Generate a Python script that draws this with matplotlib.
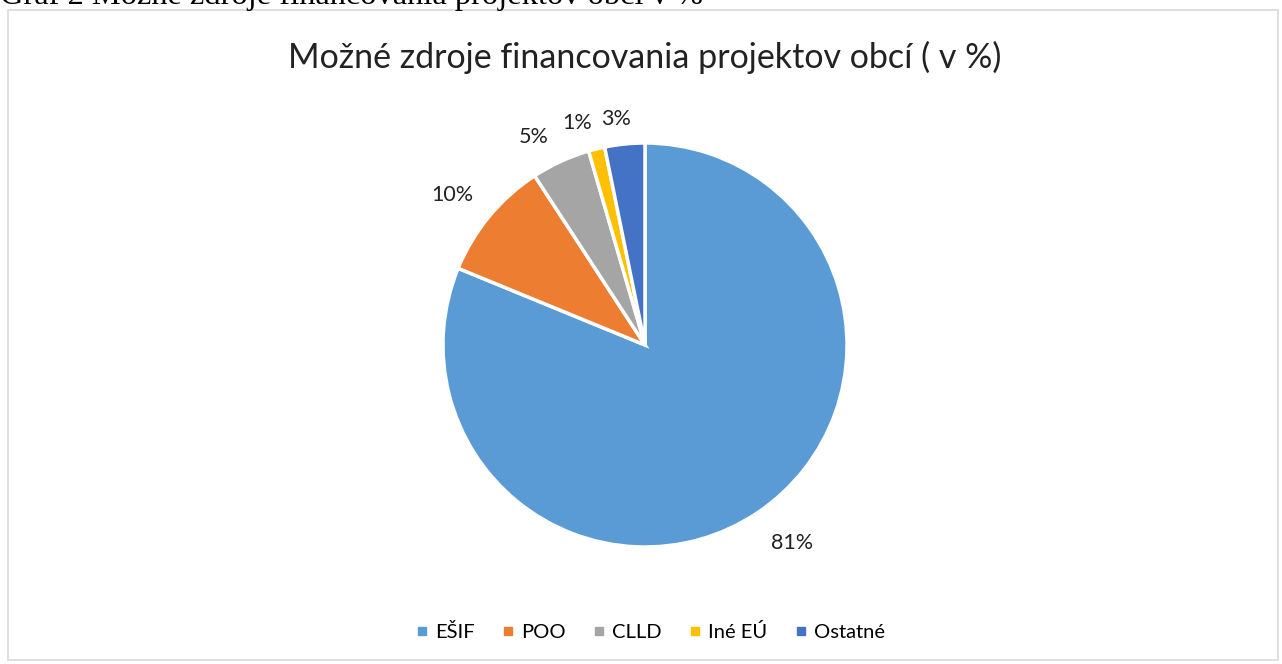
import numpy as np
import matplotlib.pyplot as plt
from matplotlib.patches import Rectangle
from matplotlib.lines import Line2D

# === DATA ===
labels = ["EŠIF", "POO", "CLLD", "Iné EÚ", "Ostatné"]
values = [81.2, 9.6, 4.7, 1.3, 3.2]
colors = ["#5b9bd5", "#ed7d31", "#a5a5a5", "#ffc000", "#4472c4"]
# % label placement (Excel "best fit"): distance in radii and angle nudge in degrees
label_dist = [1.22, 1.21, 1.17, 1.15, 1.13]
label_turn = [2.8, 1.7, 3.5, 3.1, 1.5]

TITLE = "Možné zdroje financovania projektov obcí ( v %)"
CAPTION = "Graf 2 Možné zdroje financovania projektov obcí v %"

W, H = 1282, 664
fig = plt.figure(figsize=(W / 100, H / 100), dpi=100)

# chart frame
fig.patches.append(Rectangle((8 / W, 4 / H), 1270 / W, 650 / H, transform=fig.transFigure,
                             fill=False, edgecolor="#d9d9d9", linewidth=1.2))

# caption above the chart, cut off by the top edge
fig.text(0 / W, 1 - 4 / H, CAPTION, fontsize=23.4, family="Liberation Serif",
         ha="left", va="baseline")

fig.text(645 / W, 1 - 57 / H, TITLE, fontsize=24.5, family="Lato",
         ha="center", va="center", color="#222222")

# --- Pie ---
R = 202
ax = fig.add_axes([(645 - R) / W, (H - 345 - R) / H, 2 * R / W, 2 * R / H])
wedges, texts, autotexts = ax.pie(
    values, colors=colors, startangle=90, counterclock=False,
    autopct="%.0f%%", pctdistance=1.2, radius=1.0,
    wedgeprops=dict(edgecolor="white", linewidth=2.5),
    textprops=dict(fontsize=15.5, family="Lato", color="#222222"))
for w, t, d, a in zip(wedges, autotexts, label_dist, label_turn):
    mid = np.deg2rad((w.theta1 + w.theta2) / 2 + a)
    t.set_position((d * np.cos(mid), d * np.sin(mid)))
ax.set_aspect("equal")
ax.set_xlim(-1, 1)
ax.set_ylim(-1, 1)

# --- Legend ---
handles = [Line2D([], [], marker="s", linestyle="none", markersize=6,
                  markerfacecolor=c, markeredgecolor=c) for c in colors]
fig.legend(handles, labels, loc="center", bbox_to_anchor=(650 / W, 1 - 632 / H),
           ncol=5, frameon=False, prop=dict(family="Lato", size=14.5),
           handletextpad=0.3, columnspacing=1.3, handlelength=0.7)

fig.savefig("out.png", dpi=100)
